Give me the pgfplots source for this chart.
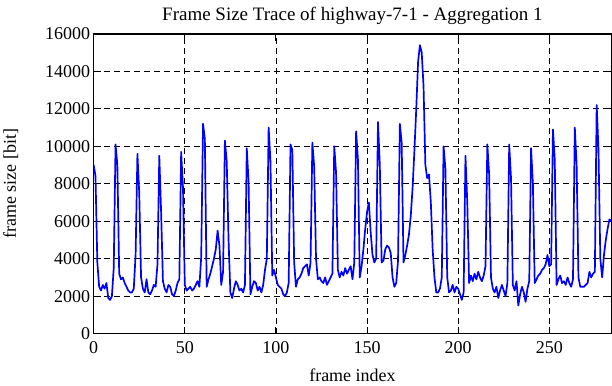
\documentclass[border=0pt]{standalone}
\usepackage{pgfplots}
\pgfplotsset{compat=1.18}
\usepackage{pgfplotstable}
\usepackage{fontspec}
\setmainfont{Liberation Serif}
\pgfplotstableread{
x y
0 9000
1 8400
2 3800
3 2500
4 2300
5 2600
6 2400
7 2700
8 1900
9 1800
10 2000
11 3500
12 10100
13 9000
14 3200
15 2900
16 3000
17 2700
18 2500
19 2300
20 2200
21 2200
22 2400
23 4200
24 9600
25 7500
26 3000
27 2400
28 2200
29 2900
30 2200
31 2100
32 2300
33 2600
34 2500
35 3700
36 9500
37 6500
38 2800
39 2400
40 2200
41 2600
42 2500
43 2100
44 2000
45 2300
46 2700
47 2900
48 9700
49 7800
50 2600
51 2300
52 2400
53 2500
54 2300
55 2400
56 2600
57 2800
58 2500
59 4100
60 11200
61 10400
62 2500
63 2900
64 3200
65 3600
66 4000
67 4500
68 5500
69 4700
70 2600
71 3300
72 10300
73 9200
74 5000
75 2200
76 1900
77 2400
78 2800
79 2600
80 2300
81 2400
82 2200
83 2600
84 9900
85 8100
86 2100
87 2500
88 2800
89 2700
90 2300
91 2500
92 2200
93 2600
94 3400
95 4000
96 11000
97 9200
98 3100
99 3400
100 3000
101 2600
102 2500
103 2400
104 2100
105 2000
106 2200
107 2700
108 10100
109 9800
110 3800
111 2500
112 2900
113 3000
114 3200
115 3500
116 3600
117 3700
118 3100
119 3800
120 10200
121 8900
122 4000
123 2900
124 3000
125 2800
126 2700
127 3000
128 2600
129 2800
130 3000
131 3200
132 10000
133 8600
134 3400
135 3000
136 3300
137 3100
138 3500
139 3200
140 3400
141 3600
142 2900
143 3800
144 10800
145 9300
146 3000
147 3600
148 4500
149 5600
150 6500
151 7000
152 5400
153 4200
154 3800
155 4000
156 11300
157 9000
158 3800
159 3900
160 4500
161 4700
162 4600
163 4300
164 3000
165 2500
166 2700
167 3900
168 11200
169 10200
170 3800
171 4200
172 4700
173 5300
174 6300
175 7800
176 9800
177 12000
178 14500
179 15400
180 15000
181 13200
182 9000
183 8300
184 8500
185 7000
186 4500
187 3000
188 2200
189 2200
190 2400
191 3000
192 10000
193 8800
194 3000
195 2200
196 2300
197 2600
198 2200
199 2500
200 2400
201 2100
202 1800
203 2200
204 9500
205 7000
206 2700
207 3100
208 2800
209 3200
210 2900
211 3300
212 3000
213 2800
214 3100
215 3600
216 10100
217 8500
218 3000
219 2400
220 2200
221 2500
222 1900
223 2300
224 2600
225 2300
226 2000
227 2700
228 10100
229 8300
230 2600
231 2300
232 2800
233 1500
234 2100
235 2500
236 2200
237 1700
238 2400
239 2800
240 9900
241 8000
242 2700
243 2900
244 3100
245 3200
246 3400
247 3500
248 3700
249 4200
250 3600
251 3700
252 10900
253 9300
254 2600
255 2900
256 3100
257 2700
258 2800
259 2600
260 3000
261 2700
262 2500
263 2900
264 11000
265 9000
266 3000
267 2500
268 2500
269 2500
270 2600
271 2700
272 3300
273 3000
274 3200
275 3300
276 12200
277 9800
278 4000
279 3000
280 4200
281 5000
282 5600
283 6100
284 6000
}\datatable
\begin{document}
\begin{tikzpicture}
\begin{axis}[
  scale only axis,
  width=518bp, height=300bp,
  xmin=0, xmax=284, ymin=0, ymax=16000,
  xtick={0,50,100,150,200,250},
  ytick={0,2000,4000,6000,8000,10000,12000,14000,16000},
  scaled ticks=false,
  /pgf/number format/set thousands separator={},
  /pgf/number format/assume math mode=true,
  tick align=inside,
  tick pos=both,
  major tick length=7bp,
  tick style={black, line width=1pt},
  axis line style={black, line width=1.5pt},
  grid=major,
  major grid style={black, line width=0.7pt, dash pattern=on 6bp off 4bp},
  font=\fontsize{18bp}{21bp}\selectfont,
  ticklabel style={font=\fontsize{18bp}{21bp}\selectfont},
  xticklabel style={yshift=-4bp},
  title={\rule{0pt}{17bp}Frame Size Trace of highway-7-1 - Aggregation 1},
  title style={font=\fontsize{19bp}{22bp}\selectfont, yshift=0bp},
  xlabel={frame index},
  ylabel={frame size [bit]},
  xlabel style={yshift=-9bp},
  ylabel style={yshift=20bp},
]
\addplot[blue, line width=1.7pt, line join=round] table[x=x, y=y] {\datatable};
\end{axis}
\end{tikzpicture}
\end{document}
